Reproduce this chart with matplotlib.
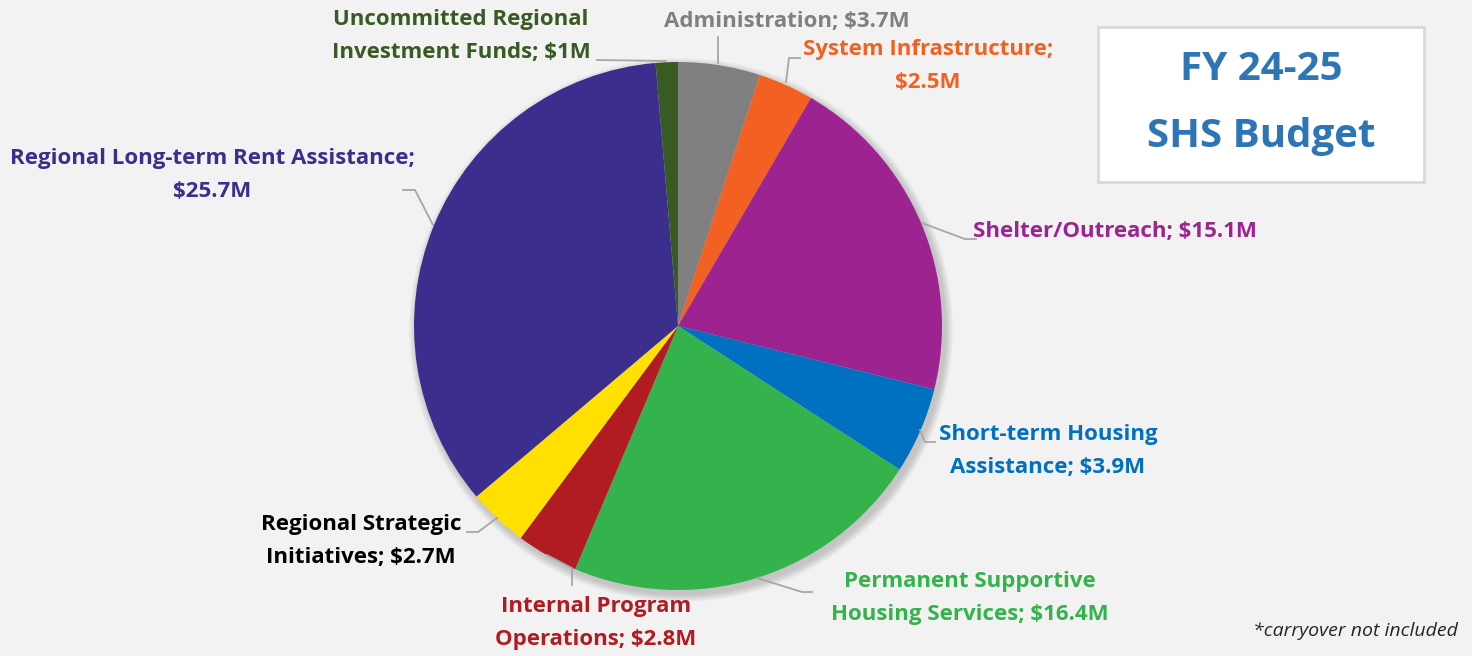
import matplotlib.pyplot as plt
from matplotlib.patches import Rectangle, Circle

# budget pieces, clockwise from 12 o'clock
categories = [
    "Administration", "System Infrastructure", "Shelter/Outreach",
    "Short-term Housing Assistance", "Permanent Supportive Housing Services",
    "Internal Program Operations", "Regional Strategic Initiatives",
    "Regional Long-term Rent Assistance", "Uncommitted Regional Investment Funds",
]
values = [3.7, 2.5, 15.1, 3.9, 16.4, 2.8, 2.7, 25.7, 1.0]
label_text = [
    "Administration; $3.7M",
    "System Infrastructure;\n$2.5M",
    "Shelter/Outreach; $15.1M",
    "Short-term Housing\nAssistance; $3.9M",
    "Permanent Supportive\nHousing Services; $16.4M",
    "Internal Program\nOperations; $2.8M",
    "Regional Strategic\nInitiatives; $2.7M",
    "Regional Long-term Rent Assistance;\n$25.7M",
    "Uncommitted Regional\nInvestment Funds; $1M",
]
slice_colors = ["#808080", "#f26122", "#9c2390", "#0070c0", "#34b34c",
                "#b01c22", "#ffe000", "#3b2e8c", "#385a23"]
text_colors = ["#808080", "#f26122", "#9c2390", "#0070c0", "#34b34c",
               "#b01c22", "#000000", "#3b2e8c", "#385a23"]

# layout (pixel coords, y down)
label_pos = [(787, 21, "center"), (928, 66, "center"), (973, 231, "left"),
             (1048, 451, "center"), (970, 598, "center"), (596, 623, "center"),
             (361, 541, "center"), (212, 175, "center"), (461, 36, "center")]
leaders = [
    [(718, 63), (718, 37)],
    [(786, 82), (789, 58), (800, 58)],
    [(922, 223), (965, 239), (976, 239)],
    [(920, 430), (925, 442), (935, 442)],
    [(757, 578), (802, 592), (812, 592)],
    [(547, 555), (572, 568), (572, 585)],
    [(497, 518), (478, 532), (467, 532)],
    [(433, 225), (415, 190), (403, 190)],
    [(666, 61), (597, 60)],
]

W, H = 1472, 656
cx, cy, R = 678, 326, 264
FONT = ["Open Sans", "DejaVu Sans"]

fig = plt.figure(figsize=(W / 100, H / 100), dpi=100, facecolor="#f2f2f2")
ax = fig.add_axes([0, 0, 1, 1])

# soft shadow under the pie
for i in range(8):
    ax.add_patch(Circle((cx + 3, cy + 4), R + 8 - i, color="black", alpha=0.025, lw=0, zorder=1))

# y axis is flipped below, so startangle -90 + counterclock = 12 o'clock going clockwise on screen
ax.pie(values, colors=slice_colors, startangle=-90, counterclock=True,
       center=(cx, cy), radius=R, frame=True,
       wedgeprops=dict(linewidth=0, zorder=2))
ax.set_xlim(0, W)
ax.set_ylim(H, 0)
ax.set_aspect("equal")
ax.axis("off")

for txt, col, (x, y, ha), pts in zip(label_text, text_colors, label_pos, leaders):
    ax.text(x, y, txt, color=col, ha=ha, va="center", fontsize=16, fontweight="bold",
            family=FONT, linespacing=1.7, zorder=5)
    xs, ys = zip(*pts)
    ax.plot(xs, ys, color="#a6a6a6", lw=1.3, zorder=4)

# title box
ax.add_patch(Rectangle((1098, 27), 326, 155, facecolor="white", edgecolor="#d9d9d9", lw=2, zorder=3))
ax.text(1261, 70, "FY 24-25", color="#2e75b6", ha="center", va="center",
        fontsize=29, fontweight="bold", family=FONT, zorder=5)
ax.text(1261, 137, "SHS Budget", color="#2e75b6", ha="center", va="center",
        fontsize=29, fontweight="bold", family=FONT, zorder=5)

ax.text(1458, 631, "*carryover not included", color="#262626", ha="right", va="center",
        fontsize=14, style="italic", family=FONT, zorder=5)

fig.savefig("out.png", dpi=100, facecolor=fig.get_facecolor())
